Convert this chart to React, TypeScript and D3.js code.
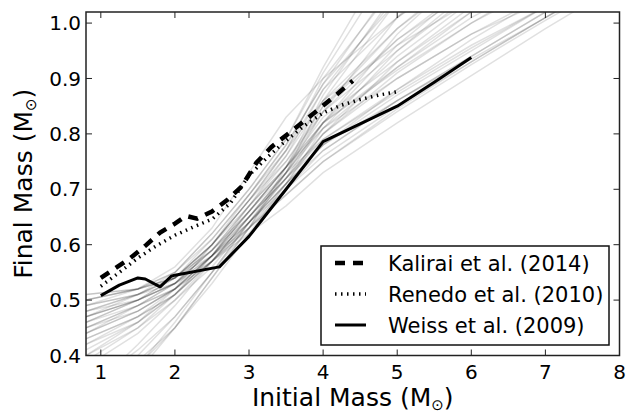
import * as d3 from "d3";

// initial mass knots shared by the grey model tracks
const trackMass = [0.8, 1.5, 2.0, 2.5, 3.0, 3.5, 4.0, 5.0, 6.0, 7.0, 8.0];

// grey ensemble of model IFMRs (final mass at each knot)
const grayTracks = [
  [0.33, 0.42, 0.49, 0.57, 0.65, 0.73, 0.82, 0.98, 1.1, 1.2, 1.28],
  [0.3, 0.4, 0.47, 0.55, 0.64, 0.73, 0.84, 1.01, 1.14, 1.24, 1.32],
  [0.28, 0.38, 0.46, 0.55, 0.64, 0.72, 0.82, 0.96, 1.07, 1.16, 1.24],
  [0.31, 0.39, 0.45, 0.53, 0.62, 0.71, 0.81, 0.95, 1.06, 1.15, 1.23],
  [0.26, 0.37, 0.45, 0.54, 0.63, 0.73, 0.86, 1.04, 1.17, 1.27, 1.35],
  [0.34, 0.41, 0.47, 0.55, 0.63, 0.71, 0.8, 0.93, 1.03, 1.12, 1.2],
  [0.29, 0.38, 0.45, 0.54, 0.63, 0.74, 0.87, 1.06, 1.2, 1.3, 1.38],
  [0.38, 0.44, 0.5, 0.57, 0.65, 0.73, 0.81, 0.92, 1.02, 1.1, 1.17],
  [0.4, 0.45, 0.5, 0.56, 0.64, 0.72, 0.8, 0.91, 1.0, 1.08, 1.15],
  [0.39, 0.45, 0.51, 0.58, 0.66, 0.74, 0.84, 0.97, 1.07, 1.15, 1.22],
  [0.41, 0.46, 0.51, 0.57, 0.65, 0.73, 0.82, 0.94, 1.04, 1.12, 1.19],
  [0.42, 0.47, 0.51, 0.57, 0.64, 0.71, 0.78, 0.88, 0.97, 1.05, 1.12],
  [0.43, 0.47, 0.52, 0.58, 0.66, 0.74, 0.85, 0.99, 1.1, 1.19, 1.26],
  [0.44, 0.48, 0.52, 0.58, 0.65, 0.72, 0.8, 0.9, 0.98, 1.05, 1.11],
  [0.45, 0.48, 0.52, 0.57, 0.63, 0.7, 0.77, 0.86, 0.94, 1.02, 1.09],
  [0.42, 0.46, 0.51, 0.58, 0.67, 0.76, 0.88, 1.05, 1.18, 1.28, 1.36],
  [0.46, 0.49, 0.52, 0.58, 0.66, 0.74, 0.82, 0.92, 1.01, 1.08, 1.14],
  [0.47, 0.5, 0.53, 0.59, 0.67, 0.75, 0.85, 0.97, 1.06, 1.13, 1.19],
  [0.48, 0.5, 0.53, 0.58, 0.65, 0.72, 0.79, 0.88, 0.96, 1.03, 1.09],
  [0.49, 0.51, 0.54, 0.6, 0.68, 0.77, 0.88, 1.01, 1.11, 1.19, 1.25],
  [0.5, 0.52, 0.54, 0.59, 0.66, 0.74, 0.81, 0.9, 0.98, 1.04, 1.1],
  [0.51, 0.52, 0.55, 0.61, 0.69, 0.78, 0.89, 1.08, 1.2, 1.3, 1.38],
  [0.5, 0.52, 0.55, 0.62, 0.7, 0.79, 0.91, 1.12, 1.25, 1.35, 1.42],
  [0.49, 0.52, 0.56, 0.63, 0.73, 0.83, 0.9, 1.01, 1.1, 1.18, 1.24],
  [0.47, 0.51, 0.55, 0.62, 0.7, 0.79, 0.92, 1.15, 1.28, 1.38, 1.45],
  [0.46, 0.5, 0.54, 0.6, 0.69, 0.78, 0.89, 1.04, 1.15, 1.24, 1.3],
  [0.48, 0.51, 0.54, 0.6, 0.68, 0.76, 0.86, 0.99, 1.09, 1.17, 1.23],
  [0.45, 0.49, 0.52, 0.57, 0.63, 0.69, 0.75, 0.84, 0.925, 1.005, 1.08],
  [0.47, 0.5, 0.53, 0.57, 0.62, 0.67, 0.73, 0.82, 0.905, 0.99, 1.07],
  [0.44, 0.48, 0.52, 0.58, 0.64, 0.7, 0.76, 0.85, 0.93, 1.01, 1.09],
  [0.5, 0.52, 0.54, 0.58, 0.63, 0.69, 0.75, 0.845, 0.93, 1.01, 1.09],
  [0.48, 0.51, 0.53, 0.58, 0.64, 0.71, 0.77, 0.86, 0.94, 1.02, 1.09],
  [0.43, 0.47, 0.51, 0.57, 0.64, 0.71, 0.78, 0.87, 0.95, 1.03, 1.1],
  [0.46, 0.5, 0.53, 0.59, 0.66, 0.73, 0.79, 0.875, 0.955, 1.03, 1.1],
  [0.51, 0.52, 0.54, 0.59, 0.65, 0.72, 0.78, 0.86, 0.935, 1.01, 1.08],
  [0.44, 0.49, 0.53, 0.6, 0.68, 0.75, 0.84, 0.95, 1.05, 1.13, 1.2],
  [0.47, 0.5, 0.54, 0.61, 0.69, 0.77, 0.86, 0.96, 1.04, 1.11, 1.17],
  [0.45, 0.49, 0.53, 0.59, 0.67, 0.74, 0.83, 0.93, 1.02, 1.1, 1.16],
  [0.49, 0.51, 0.54, 0.6, 0.67, 0.74, 0.82, 0.915, 1.0, 1.07, 1.13],
  [0.4, 0.46, 0.52, 0.6, 0.68, 0.77, 0.9, 1.07, 1.19, 1.28, 1.35],
];

// Kalirai et al. (2014)
const kalMass = [1.0, 1.2, 1.4, 1.6, 1.8, 2.0, 2.15, 2.3, 2.5, 2.7, 2.9, 3.1, 3.3, 3.6, 3.9, 4.2, 4.4];
const kalFinal = [0.54, 0.558, 0.576, 0.598, 0.622, 0.638, 0.652, 0.647, 0.66, 0.68, 0.705, 0.748, 0.776, 0.808, 0.84, 0.873, 0.896];

// Renedo et al. (2010)
const renMass = [1.0, 1.25, 1.5, 1.75, 2.0, 2.25, 2.5, 2.75, 3.0, 3.25, 3.5, 3.75, 4.0, 4.25, 4.5, 4.75, 5.0];
const renFinal = [0.525, 0.55, 0.576, 0.598, 0.617, 0.632, 0.646, 0.675, 0.725, 0.758, 0.788, 0.815, 0.838, 0.852, 0.862, 0.87, 0.876];

// Weiss et al. (2009)
const weiMass = [1.0, 1.25, 1.5, 1.6, 1.8, 1.95, 2.0, 2.6, 3.0, 3.5, 4.0, 4.5, 5.0, 5.5, 6.0];
const weiFinal = [0.508, 0.527, 0.54, 0.538, 0.524, 0.543, 0.545, 0.56, 0.615, 0.7, 0.786, 0.818, 0.85, 0.893, 0.938];

const xTicks = [1, 2, 3, 4, 5, 6, 7, 8];
const yTicks = [0.4, 0.5, 0.6, 0.7, 0.8, 0.9, 1.0];

const legendItems = [
  { label: "Kalirai et al. (2014)", dash: "10,8", width: 4.5 },
  { label: "Renedo et al. (2010)", dash: "1.5,4.5", width: 3.5 },
  { label: "Weiss et al. (2009)", dash: null, width: 3 },
];

const W = 637;
const H = 413;
const left = 86;
const right = 619.5;
const top = 12;
const bottom = 355.5;
const font = "DejaVu Sans, sans-serif";

export default function App() {
  const x = d3.scaleLinear().domain([0.8, 8]).range([left, right]);
  const y = d3.scaleLinear().domain([0.4, 1.02]).range([bottom, top]);

  const line = d3
    .line<[number, number]>()
    .x((d) => x(d[0]))
    .y((d) => y(d[1]));

  const zip = (a: number[], b: number[]) => a.map((v, i) => [v, b[i]] as [number, number]);

  const lx = 321, ly = 246, lw = 288, lh = 99;

  return (
    <svg width={W} height={H} style={{ position: "absolute", left: 0, top: 0 }} fontFamily={font}>
      <defs>
        <clipPath id="plotArea">
          <rect x={left} y={top} width={right - left} height={bottom - top} />
        </clipPath>
      </defs>
      <rect width={W} height={H} fill="white" />

      <g clipPath="url(#plotArea)">
        {grayTracks.map((t, i) => (
          <path key={i} d={line(zip(trackMass, t)) || ""} fill="none" stroke="#000" strokeOpacity={0.12} strokeWidth={1.5} />
        ))}
        <path d={line(zip(renMass, renFinal)) || ""} fill="none" stroke="#000" strokeWidth={3.5} strokeDasharray="1.5,4.5" />
        <path d={line(zip(kalMass, kalFinal)) || ""} fill="none" stroke="#000" strokeWidth={4.5} strokeDasharray="10,8" />
        <path d={line(zip(weiMass, weiFinal)) || ""} fill="none" stroke="#000" strokeWidth={3} strokeLinejoin="round" />
      </g>

      {/* ticks, inward on all four sides */}
      {xTicks.map((t) => (
        <g key={"x" + t}>
          <line x1={x(t)} x2={x(t)} y1={bottom} y2={bottom - 6} stroke="#222" strokeWidth={1} />
          <line x1={x(t)} x2={x(t)} y1={top} y2={top + 6} stroke="#222" strokeWidth={1} />
          <text x={x(t)} y={379} textAnchor="middle" fontSize={20} fill="#000">{t}</text>
        </g>
      ))}
      {yTicks.map((t) => (
        <g key={"y" + t}>
          <line x1={left} x2={left + 6} y1={y(t)} y2={y(t)} stroke="#222" strokeWidth={1} />
          <line x1={right} x2={right - 6} y1={y(t)} y2={y(t)} stroke="#222" strokeWidth={1} />
          <text x={81} y={y(t)} dy="0.36em" textAnchor="end" fontSize={20} fill="#000">{t.toFixed(1)}</text>
        </g>
      ))}
      <rect x={left} y={top} width={right - left} height={bottom - top} fill="none" stroke="#222" strokeWidth={1.5} />

      <text x={(left + right) / 2} y={406} textAnchor="middle" fontSize={25} fill="#000">
        Initial Mass (M
        <tspan fontSize={15} dy={4}>{"\u2299"}</tspan>
        <tspan dy={-4}>)</tspan>
      </text>
      <text transform={`translate(32, ${(top + bottom) / 2}) rotate(-90)`} textAnchor="middle" fontSize={25} fill="#000">
        Final Mass (M
        <tspan fontSize={15} dy={4}>{"\u2299"}</tspan>
        <tspan dy={-4}>)</tspan>
      </text>

      <g>
        <rect x={lx} y={ly} width={lw} height={lh} fill="white" stroke="#111" strokeWidth={1.5} />
        {legendItems.map((it, i) => {
          const cy = 263 + i * 31;
          return (
            <g key={it.label}>
              <line x1={335} x2={366} y1={cy} y2={cy} stroke="#000" strokeWidth={it.width} strokeDasharray={it.dash || undefined} />
              <text x={388} y={cy} dy="0.36em" fontSize={21} fill="#000">{it.label}</text>
            </g>
          );
        })}
      </g>
    </svg>
  );
}
